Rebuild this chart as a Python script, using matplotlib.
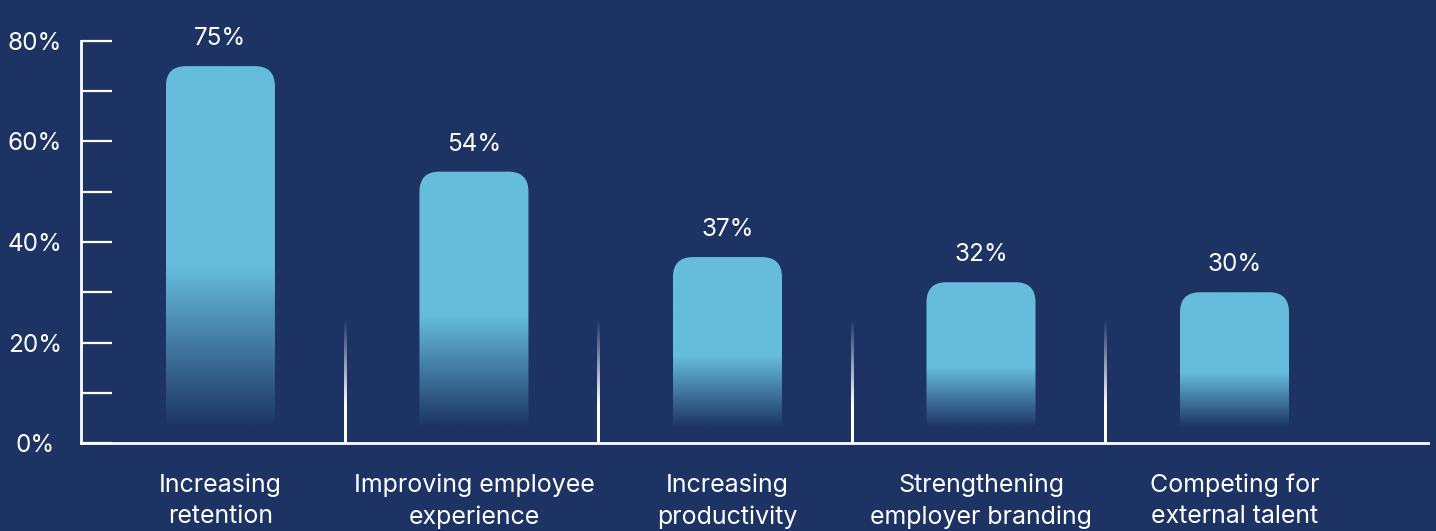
import matplotlib
matplotlib.use("Agg")
import matplotlib.pyplot as plt
import numpy as np
from matplotlib.patches import FancyBboxPatch
from matplotlib.colors import to_rgb

categories = [
    "Increasing\nretention",
    "Improving employee\nexperience",
    "Increasing\nproductivity",
    "Strengthening\nemployer branding",
    "Competing for\nexternal talent",
]
values = [75, 54, 37, 32, 30]
y_ticks = [0, 20, 40, 60, 80]
y_tick_labels = ["0%", "20%", "40%", "60%", "80%"]

BG = "#1c3363"
BAR = "#66bddb"
WHITE = "#ffffff"

plt.rcParams["font.family"] = ["Inter", "DejaVu Sans"]

fig = plt.figure(figsize=(14.36, 5.31), dpi=100, facecolor=BG)
ax = fig.add_axes([0.0564, 0.1657, 0.9380, 0.7571])
ax.set_facecolor(BG)

x = np.arange(len(categories))
width = 0.43
xlim = (-0.55, 4.763)
ylim = (0, 80)

# px per data unit, used to keep the rounded corners circular
ax_w = 0.9380 * 1436
ax_h = 0.7571 * 531
sx = ax_w / (xlim[1] - xlim[0])
sy = ax_h / (ylim[1] - ylim[0])
radius_px = 20

bar_rgb = np.array(to_rgb(BAR))
bg_rgb = np.array(to_rgb(BG))

for xi, v in zip(x, values):
    # vertical colour ramp: solid on top, fading into the background near the base
    n = 400
    ys = np.linspace(0, v, n)
    fade_top = 0.47 * v
    fade_bot = 3.0
    t = np.clip((ys - fade_bot) / (fade_top - fade_bot), 0, 1)
    cols = bg_rgb[None, :] * (1 - t[:, None]) + bar_rgb[None, :] * t[:, None]
    img = cols[::-1, None, :]
    im = ax.imshow(img, extent=(xi - width / 2, xi + width / 2, 0, v),
                   aspect="auto", interpolation="bilinear", zorder=2)
    clip = FancyBboxPatch((xi - width / 2, -10), width, v + 10,
                          boxstyle=f"round,pad=0,rounding_size={radius_px / sx}",
                          mutation_aspect=sx / sy,
                          transform=ax.transData, facecolor="none",
                          edgecolor="none")
    ax.add_patch(clip)
    im.set_clip_path(clip)

    ax.text(xi, v + 5.5, f"{v}%", ha="center", va="center",
            color=WHITE, fontsize=17.5, zorder=3)

# group separators that fade out upwards
sep_top = 24.5
line_w = 2.2 / sx
for xs in x[:-1] + 0.49:
    n = 200
    ys = np.linspace(0, sep_top, n)
    alpha = np.clip((sep_top - ys) / 17, 0, 1)
    rgba = np.ones((n, 1, 4))
    rgba[:, 0, 3] = alpha
    ax.imshow(rgba[::-1], extent=(xs - line_w / 2, xs + line_w / 2, 0, sep_top),
              aspect="auto", interpolation="bilinear", zorder=2)

ax.set_xlim(*xlim)
ax.set_ylim(*ylim)

for side in ["top", "right"]:
    ax.spines[side].set_visible(False)
for side in ["left", "bottom"]:
    ax.spines[side].set_color(WHITE)
    ax.spines[side].set_linewidth(2)

ax.set_yticks(y_ticks)
ax.set_yticklabels(y_tick_labels)
ax.set_yticks([10, 30, 50, 70], minor=True)
ax.tick_params(axis="y", which="both", direction="in", length=22.5, width=1.6,
               color=WHITE, labelcolor=WHITE, labelsize=17.5, pad=33)
for lbl in ax.get_yticklabels():
    lbl.set_horizontalalignment("center")

ax.set_xticks(x)
ax.set_xticklabels(categories)
for lbl in ax.get_xticklabels():
    lbl.set_linespacing(1.45)
ax.tick_params(axis="x", length=0, labelcolor=WHITE, labelsize=18, pad=22)

fig.savefig("out.png", dpi=100, facecolor=BG)
